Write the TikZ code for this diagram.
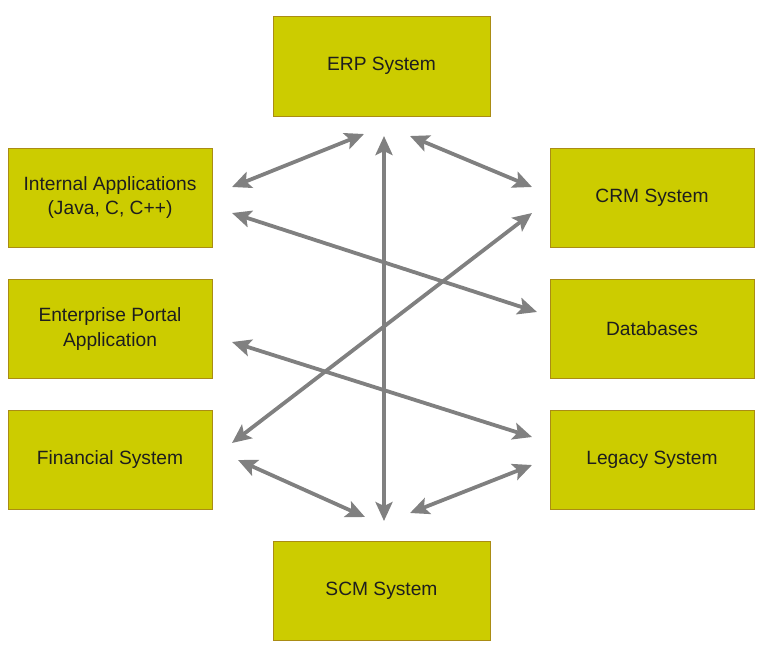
\documentclass[tikz,border=0pt]{standalone}
\usepackage{fontspec}
\setmainfont{Liberation Sans}
\usetikzlibrary{arrows.meta}
\definecolor{boxfill}{RGB}{204,204,0}
\definecolor{boxline}{RGB}{170,140,20}
\definecolor{arrowgray}{RGB}{128,128,128}
\definecolor{txt}{RGB}{30,30,30}
\tikzset{
  sysbox/.style={draw=boxline, line width=1pt, fill=boxfill, minimum width=#1, minimum height=99pt,
    inner sep=0pt, align=center, text=txt, font=\fontsize{19.2}{24.5}\selectfont},
  sysbox/.default=204pt,
  link/.style={draw=arrowgray, line width=3.8pt,
    {Stealth[length=19pt,width=17pt,inset=4pt]}-{Stealth[length=19pt,width=17pt,inset=4pt]}}
}
\begin{document}
\begin{tikzpicture}[x=1pt,y=-1pt]
\useasboundingbox (0,0) rectangle (765,649);
\node[sysbox=217pt, minimum height=100pt] (erp) at (381.5,66) {ERP System};
\node[sysbox] (int) at (110,197.5) {Internal Applications\\(Java, C, C++)};
\node[sysbox] (crm) at (652,197.5) {CRM System};
\node[sysbox] (ent) at (110,329) {Enterprise Portal\\Application};
\node[sysbox] (db) at (652,329) {Databases};
\node[sysbox] (fin) at (110,459.5) {Financial System};
\node[sysbox] (leg) at (652,459.5) {Legacy System};
\node[sysbox=217pt] (scm) at (381.5,590.5) {SCM System};
% arrow end points
\coordinate (erpA) at (364,134);
\coordinate (erpB) at (384,136);
\coordinate (erpC) at (410,136);
\coordinate (intA) at (232,187);
\coordinate (intB) at (232,213);
\coordinate (crmA) at (532,187);
\coordinate (crmB) at (532,213);
\coordinate (dbA) at (537,312);
\coordinate (entA) at (232,342);
\coordinate (legA) at (532,437);
\coordinate (legB) at (532,465);
\coordinate (finA) at (232,443);
\coordinate (finB) at (238,460);
\coordinate (scmA) at (365,517);
\coordinate (scmB) at (384,521);
\coordinate (scmC) at (410,513);
\draw[link] (erpA) -- (intA);
\draw[link] (erpB) -- (scmB);
\draw[link] (erpC) -- (crmA);
\draw[link] (intB) -- (dbA);
\draw[link] (crmB) -- (finA);
\draw[link] (entA) -- (legA);
\draw[link] (finB) -- (scmA);
\draw[link] (legB) -- (scmC);
\end{tikzpicture}
\end{document}
